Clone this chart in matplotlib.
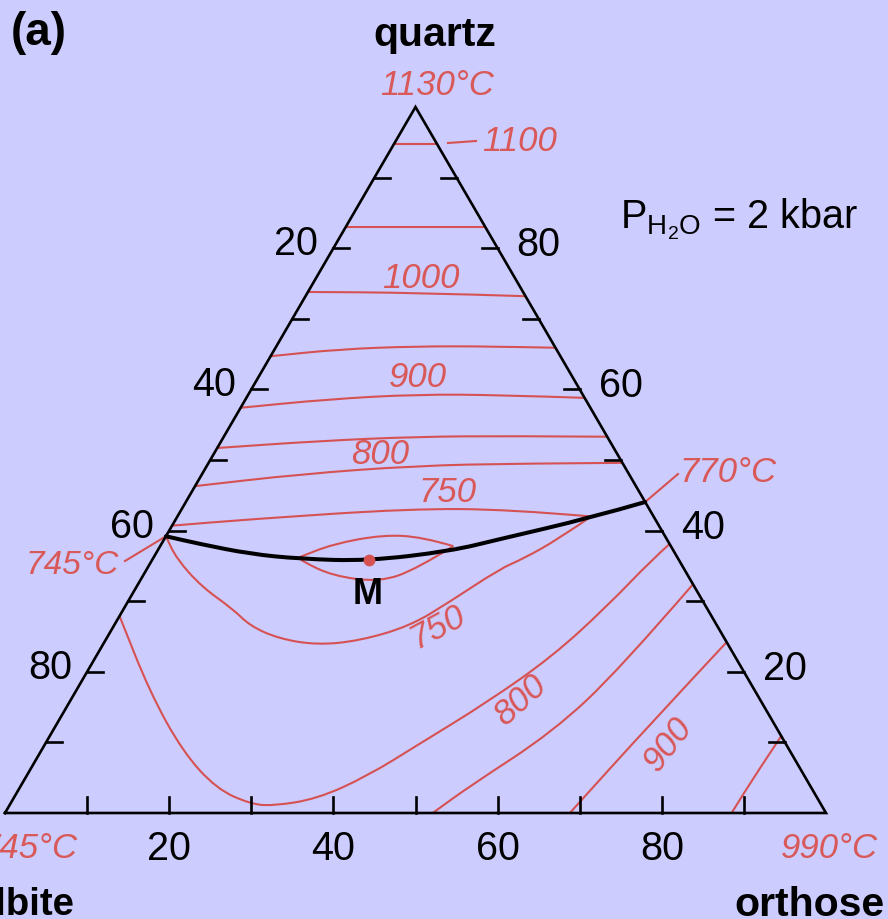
import matplotlib
matplotlib.use("Agg")
import matplotlib.pyplot as plt
from matplotlib.path import Path
from matplotlib.patches import PathPatch

plt.rcParams['font.family'] = ['Liberation Sans', 'DejaVu Sans']
plt.rcParams['mathtext.fontset'] = 'custom'
plt.rcParams['mathtext.rm'] = 'Liberation Sans'
plt.rcParams['mathtext.it'] = 'Liberation Sans:italic'

BG = '#ccccff'
RED = '#d65252'
RED_TXT = '#d95858'

# ---- data: compositions given as (Or %, Q %); Ab = 100 - Or - Q ----
iso_1100 = [(0, 94.8), (5.2, 94.8)]
iso_1050 = [(0, 83.0), (8.5, 83.0), (17.0, 83.0)]
iso_1000 = [(0, 73.8), (13, 73.7), (26.8, 73.2)]
iso_950 = [(0, 64.7), (8, 65.7), (17, 66.1), (26, 66.1), (34.1, 65.9)]
iso_900 = [(0, 57.4), (10, 58.6), (20.5, 59.3), (31, 59.2), (41.2, 58.8)]
iso_850 = [(0, 51.7), (12, 52.7), (23.5, 53.3), (35, 53.4), (46.7, 53.3)]
iso_800 = [(0, 46.3), (12, 48.0), (25.6, 49.2), (38, 49.5), (50.4, 49.6)]
iso_750_upper = [(0, 40.7), (9.0, 41.6), (27.7, 43.1), (40, 43.0), (50.4, 42.0)]
iso_750_lower = [(0, 39.2), (2.9, 36.0), (8, 32.0), (13.3, 28.9), (16.6, 26.5),
                 (21, 24.7), (26.1, 23.8), (31, 24.4), (36.1, 26.5),
                 (39.2, 29.9), (43.0, 34.6), (45.1, 36.0), (48, 38.8), (50.4, 42.0)]
lens_upper = [(17.7, 36.2), (20.9, 38.1), (26.3, 39.4), (31.3, 39.1), (35.7, 37.8)]
lens_lower = [(17.7, 36.2), (18.5, 35.6), (23.1, 33.6), (29.3, 32.7), (32.9, 34.6), (35.7, 37.8)]
iso_800_low = [(0, 27.9), (9.1, 17.1), (17.4, 8.6), (24.1, 3.4), (29.2, 1.3),
               (32.1, 1.0), (37.0, 2.0), (41.5, 5.2), (45.6, 9.8), (50.9, 15.7),
               (55.6, 22.2), (58.7, 29.3), (60.9, 36.0), (61.9, 38.1)]
iso_850_low = [(52.1, 0), (54.7, 3.8), (61.0, 11.5), (64.7, 20.4), (67.6, 32.4)]
iso_900_low = [(68.8, 0), (72.2, 12.3), (75.8, 24.2)]
iso_950_low = [(88.5, 0), (88.7, 5.5), (89.1, 10.9)]
cotectic = [(0, 39.2), (4.7, 38.1), (11.5, 36.7), (17.9, 36.0), (26.3, 35.7),
            (35.7, 37.1), (40.9, 38.8), (50.4, 41.8), (55.95, 44.05)]
minimum_M = (26.4, 35.8)

tick_values = [10, 20, 30, 40, 50, 60, 70, 80, 90]
labelled = [20, 40, 60, 80]

# ---- figure / geometry ----
W, H = 888, 920
fig = plt.figure(figsize=(W / 100, H / 100), dpi=100, facecolor=BG)
ax = fig.add_axes([0, 0, 1, 1])
ax.set_facecolor(BG)
ax.axis('off')

# apex / base placement in pixels
X0, X1, YB, YT = 5.0, 826.0, 814.0, 108.0
ax.set_xlim(-X0 / (X1 - X0), (W - X0) / (X1 - X0))
ax.set_ylim((YB - H) / (YB - YT), YB / (YB - YT))


def tern(or_, q):
    return or_ / 100 + q / 200, q / 100


def curve(points):
    xs, ys = zip(*[tern(o, q) for o, q in points])
    return xs, ys


def px(x, y):
    return (x - X0) / (X1 - X0), (YB - y) / (YB - YT)


def smooth_line(points, **kw):
    """Draw a polyline as a chain of quadratic Bezier segments."""
    pts = [tern(o, q) for o, q in points]
    if len(pts) < 3:
        verts, codes = pts, [Path.MOVETO] + [Path.LINETO] * (len(pts) - 1)
    else:
        verts = [pts[0]]
        codes = [Path.MOVETO]
        mids = [((pts[i][0] + pts[i + 1][0]) / 2, (pts[i][1] + pts[i + 1][1]) / 2)
                for i in range(len(pts) - 1)]
        verts.append(mids[0])
        codes.append(Path.LINETO)
        for i in range(1, len(pts) - 1):
            end = mids[i] if i < len(pts) - 2 else pts[-1]
            verts += [pts[i], end]
            codes += [Path.CURVE3, Path.CURVE3]
    patch = PathPatch(Path(verts, codes), facecolor='none', **kw)
    ax.add_patch(patch)


sx = 1.0 / (X1 - X0)   # one pixel in data x
sy = 1.0 / (YB - YT)   # one pixel in data y

# triangle frame
tri = [(0, 0), (100, 0), (0, 100), (0, 0)]
tx, ty = curve(tri)
ax.plot(tx, ty, color='black', lw=1.9, solid_joinstyle='miter', zorder=5)

tick_len = 16
for v in tick_values:
    x, y = tern(0, v)
    ax.plot([x, x + tick_len * sx], [y, y], color='black', lw=1.9, zorder=5)
    x, y = tern(100 - v, v)
    ax.plot([x, x - tick_len * sx], [y, y], color='black', lw=1.9, zorder=5)
    x, y = tern(v, 0)
    ax.plot([x, x], [y, y + tick_len * sy], color='black', lw=1.9, zorder=5)

fs_tick = 28.5
for v in labelled:
    x, y = tern(0, 100 - v)
    ax.text(x - 37 * sx, y + 5 * sy, str(v), ha='center', va='center', fontsize=fs_tick)
    x, y = tern(100 - v, v)
    ax.text(x + 41 * sx, y + 4 * sy, str(v), ha='center', va='center', fontsize=fs_tick)
    x, y = tern(v, 0)
    ax.text(x, y - 35 * sy, str(v), ha='center', va='center', fontsize=fs_tick)

# isotherms
for c in [iso_1100, iso_1050, iso_1000, iso_950, iso_900, iso_850, iso_800,
          iso_750_upper, iso_750_lower, lens_upper, lens_lower,
          iso_800_low, iso_850_low, iso_900_low, iso_950_low]:
    smooth_line(c, edgecolor=RED, lw=1.5, capstyle='butt', zorder=3)

# cotectic
smooth_line(cotectic, edgecolor='black', lw=2.9, capstyle='round', zorder=4)

# minimum M
mx, my = tern(*minimum_M)
ax.plot([mx], [my], 'o', color=RED, ms=8.5, mec='none', zorder=6)
ax.text(*px(368, 594), 'M', ha='center', va='center', fontsize=26, fontweight='bold')

# leader lines
ax.plot(*zip(px(448, 144), px(476, 142)), color=RED, lw=1.5)
ax.plot(*zip(tern(*cotectic[-1]), px(678, 475)), color=RED, lw=1.5)
ax.plot(*zip(tern(*cotectic[0]), px(125, 562)), color=RED, lw=1.5)

# temperature labels
fs_t = 25
tkw = dict(color=RED_TXT, fontsize=fs_t, style='italic')
ax.text(*px(437, 85), '1130°C', ha='center', va='center', **tkw)
ax.text(*px(482, 141), '1100', ha='left', va='center', **tkw)
ax.text(*px(421, 278), '1000', ha='center', va='center', **tkw)
ax.text(*px(418, 377), '900', ha='center', va='center', **tkw)
ax.text(*px(380, 455), '800', ha='center', va='center', **tkw)
ax.text(*px(447, 492), '750', ha='center', va='center', **tkw)
ax.text(*px(679, 472), '770°C', ha='left', va='center', **tkw)
ax.text(*px(119, 566), '745°C', ha='right', va='center', fontsize=24, color=RED_TXT, style='italic')
ax.text(*px(78, 849), '745°C', ha='right', va='center', **tkw)
ax.text(*px(878, 849), '990°C', ha='right', va='center', **tkw)
ax.text(*px(438, 627), '750', ha='center', va='center', rotation=28, **tkw)
ax.text(*px(520, 700), '800', ha='center', va='center', rotation=42, **tkw)
ax.text(*px(668, 744), '900', ha='center', va='center', rotation=52, **tkw)

# end-member and panel labels
bkw = dict(fontweight='bold', color='black')
ax.text(*px(435, 35), 'quartz', ha='center', va='center', fontsize=29.5, **bkw)
ax.text(*px(75, 905), 'albite', ha='right', va='center', fontsize=27.5, **bkw)
ax.text(*px(884, 905), 'orthose', ha='right', va='center', fontsize=29.5, **bkw)
ax.text(*px(11, 33), '(a)', ha='left', va='center', fontsize=33, **bkw)
ax.text(*px(620, 219), r'$\mathregular{P_{H_2O}}$ = 2 kbar', ha='left', va='center', fontsize=28.5)

fig.savefig('out.png', dpi=100, facecolor=BG)
